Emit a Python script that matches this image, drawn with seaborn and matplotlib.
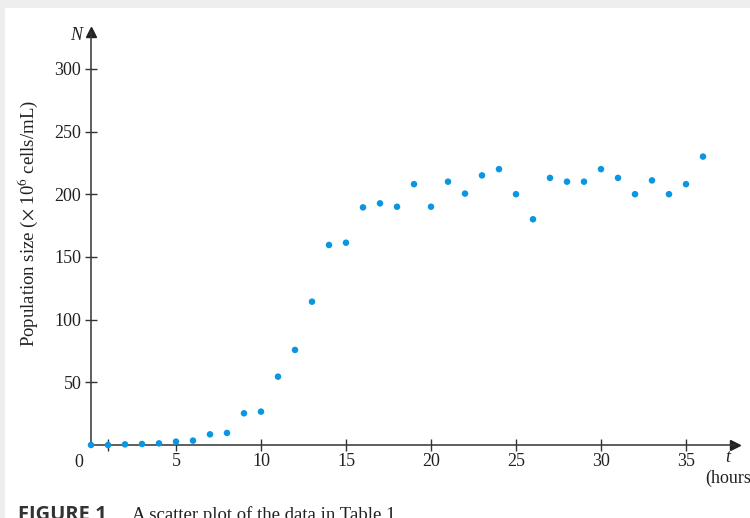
import matplotlib
matplotlib.use("Agg")
import matplotlib.pyplot as plt
import seaborn as sns
import pandas as pd
from matplotlib.patches import Rectangle

# hours since start and population size (x 10^6 cells/mL)
hours = list(range(0, 37))
population = [0, 0, 0.5, 0.8, 1.3, 2.7, 3.5, 8.5, 9.6, 25.3, 26.6,
              54.5, 75.8, 114.3, 159.5, 161.3, 189.5, 192.7, 190, 208,
              190, 210, 200.5, 215, 220, 200, 180, 213, 210, 210,
              220, 213, 200, 211, 200, 208, 230]
x_ticks = [5, 10, 15, 20, 25, 30, 35]
y_ticks = [50, 100, 150, 200, 250, 300]

df = pd.DataFrame({"t": hours, "N": population})

sns.set_style("white")
plt.rcParams["font.family"] = ["Liberation Serif", "DejaVu Serif"]
plt.rcParams["mathtext.fontset"] = "stix"

W, H = 750, 518
fig = plt.figure(figsize=(7.5, 5.18), dpi=100)
fig.patch.set_facecolor("#eeeeee")
fig.patches.append(Rectangle((5 / W, 0), 1, 1 - 8 / H, transform=fig.transFigure,
                             facecolor="white", edgecolor="none", zorder=0))

left, right, bottom, top = 91, 735, 445, 32
ax = fig.add_axes([left / W, 1 - bottom / H, (right - left) / W, (bottom - top) / H])
ax.set_zorder(2)
ax.patch.set_alpha(0)

sns.scatterplot(data=df, x="t", y="N", ax=ax, color="#0a96e0", s=22,
                edgecolor="none", clip_on=False, zorder=5)

ax.set_xlim(0, (right - left) / 17)
ax.set_ylim(0, (bottom - top) / 1.254)

for side in ["top", "right"]:
    ax.spines[side].set_visible(False)
for side in ["left", "bottom"]:
    ax.spines[side].set_color("#333333")
    ax.spines[side].set_linewidth(1.1)

# arrow heads on the axes
ax.plot(1, 0, marker=">", color="#222222", markersize=7, transform=ax.get_yaxis_transform(),
        clip_on=False)
ax.plot(0, 1, marker="^", color="#222222", markersize=7, transform=ax.get_xaxis_transform(),
        clip_on=False)

ax.set_xticks(x_ticks)
ax.set_xticks([1], minor=True)
ax.set_yticks(y_ticks)
ax.tick_params(axis="both", which="both", direction="inout", length=9, width=1,
               color="#333333", labelsize=13, labelcolor="#222222",
               bottom=True, left=True)
ax.tick_params(axis="x", pad=1)
ax.tick_params(axis="y", pad=2.5)
ax.set_xlabel("")
ax.set_ylabel("Population size ($\\times$ 10$^{6}$ cells/mL)", fontsize=13.5,
              color="#222222")
ax.yaxis.set_label_coords(-51 / (right - left), (bottom - 224) / (bottom - top))

ax.text(-0.012, -0.022, "0", transform=ax.transAxes, ha="right", va="top",
        fontsize=13, color="#222222")
ax.text(82 / W, 1 - 36 / H, "N", transform=fig.transFigure, ha="right", va="center",
        fontsize=13, style="italic", color="#222222")
ax.text(728 / W, 1 - 458 / H, "t", transform=fig.transFigure, ha="center", va="center",
        fontsize=13, style="italic", color="#222222")
ax.text(705 / W, 1 - 478 / H, "(hours)", transform=fig.transFigure, ha="left", va="center",
        fontsize=13, color="#222222")

fig.text(18 / W, -0.004, "FIGURE 1", fontsize=14.5, fontweight="bold",
         family=["Open Sans", "DejaVu Sans"], color="#333333", va="baseline", zorder=3)
fig.text(132 / W, -0.004, "A scatter plot of the data in Table 1", fontsize=13.5,
         color="#222222", va="baseline", zorder=3)

fig.savefig("out.png", dpi=100, facecolor=fig.get_facecolor())
